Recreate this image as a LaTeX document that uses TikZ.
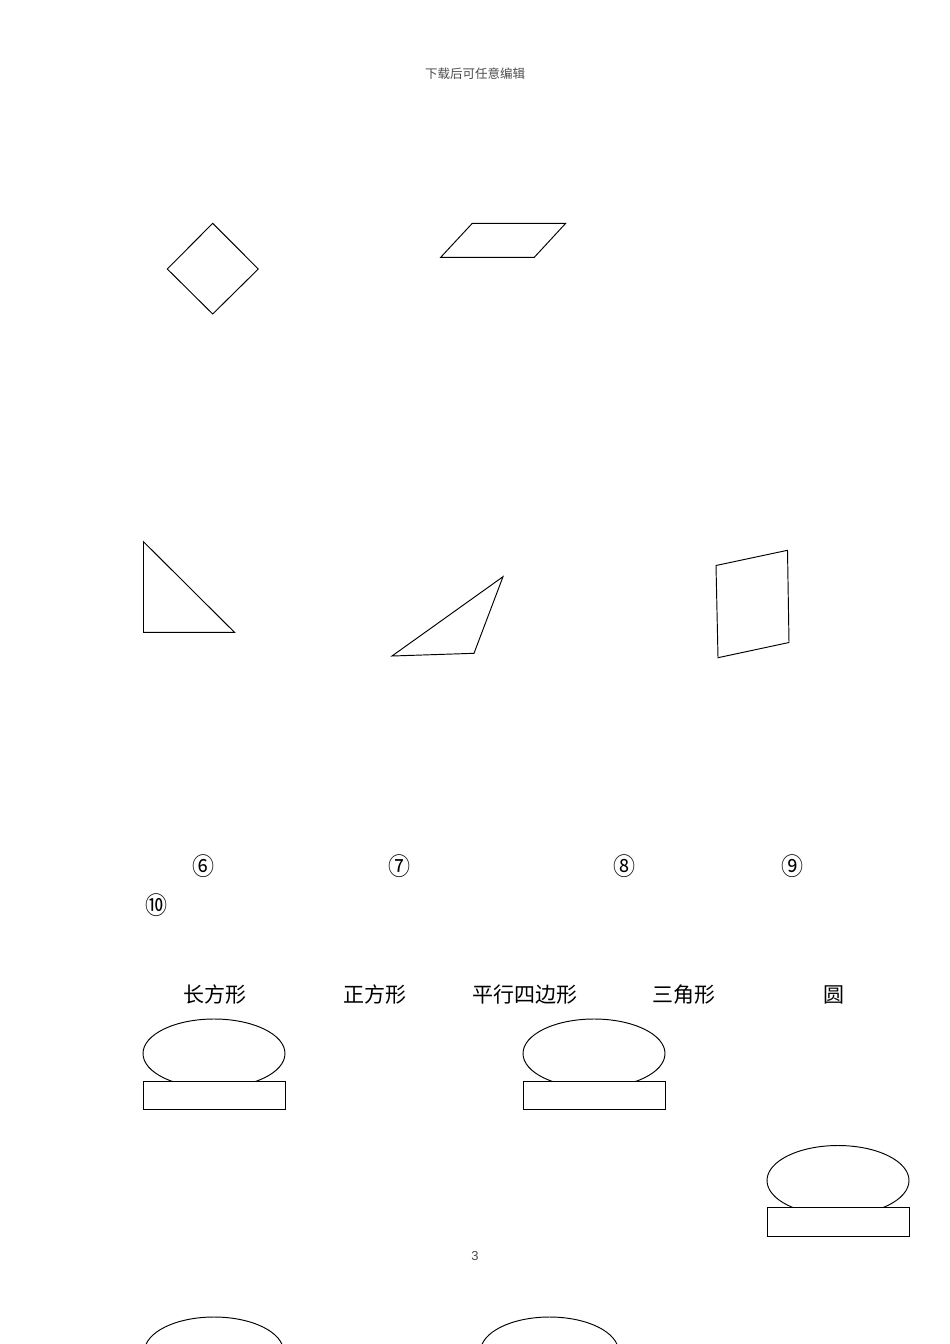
\documentclass[tikz,border=0pt]{standalone}
\usepackage{fontspec}
\newfontfamily\cjk{Noto Sans CJK SC}
\newfontfamily\pgfont{Liberation Sans}
\begin{document}
\begin{tikzpicture}[x=1pt,y=-1pt,
  shp/.style={draw=black,line width=0.95pt,line join=miter},
  lbl/.style={font=\cjk\fontsize{21}{21}\selectfont,inner sep=0pt,anchor=center},
  num/.style={font=\cjk\fontsize{22}{22}\selectfont,inner sep=0pt,anchor=center},
  small/.style={font=\cjk\fontsize{12.5}{12.5}\selectfont,text=black!70,inner sep=0pt}]
\useasboundingbox (0,0) rectangle (950,1344);
\clip (0,0) rectangle (950,1344);
\fill[white] (0,0) rectangle (950,1344);
% header
\node[small] (hdr) at (475,74) {下载后可任意编辑};
% diamond
\draw[shp] (212.7,223.3) -- (258.3,269) -- (212.7,314) -- (167.3,269) -- cycle;
% parallelogram
\draw[shp] (472.3,223.3) -- (565.7,223.3) -- (534.3,257.3) -- (440.7,257.3) -- cycle;
% right triangle
\draw[shp] (143.5,541.7) -- (234.5,632.3) -- (143.5,632.3) -- cycle;
% obtuse triangle
\draw[shp] (392,656) -- (474,653.3) -- (503,576.7) -- cycle;
% quadrilateral
\draw[shp] (716,565.5) -- (787.5,550.3) -- (789,642.5) -- (718,657.7) -- cycle;
% circled numbers
\node[num] (n6) at (203,866) {\scalebox{1}[1.12]{⑥}};
\node[num] (n7) at (399,866) {\scalebox{1}[1.12]{⑦}};
\node[num] (n8) at (624,866) {\scalebox{1}[1.12]{⑧}};
\node[num] (n9) at (792,866) {\scalebox{1}[1.12]{⑨}};
\node[num] (n10) at (156,905) {\scalebox{1}[1.12]{⑩}};
% labels
\node[lbl] (l1) at (215,995) {长方形};
\node[lbl] (l2) at (375,995) {正方形};
\node[lbl] (l3) at (525,995) {平行四边形};
\node[lbl] (l4) at (684,995) {三角形};
\node[lbl] (l5) at (834,995) {圆};
% ellipse + rect groups
\draw[shp] (214,1053.5) ellipse [x radius=71, y radius=34.5];
\filldraw[shp,fill=white] (143.3,1081) rectangle (285,1109.3);
\draw[shp] (594,1053.5) ellipse [x radius=71, y radius=34.5];
\filldraw[shp,fill=white] (523.3,1081) rectangle (665,1109.3);
\draw[shp] (838,1180.5) ellipse [x radius=71, y radius=35];
\filldraw[shp,fill=white] (767,1207.5) rectangle (909,1236);
% page number
\node[font=\pgfont\fontsize{13}{13}\selectfont,text=black!70,inner sep=0pt] (pg) at (475,1256) {3};
% bottom ellipses (cut off)
\draw[shp] (214,1351.5) ellipse [x radius=69.5, y radius=34.5];
\draw[shp] (549.5,1351.5) ellipse [x radius=69, y radius=34.5];
\end{tikzpicture}
\end{document}
